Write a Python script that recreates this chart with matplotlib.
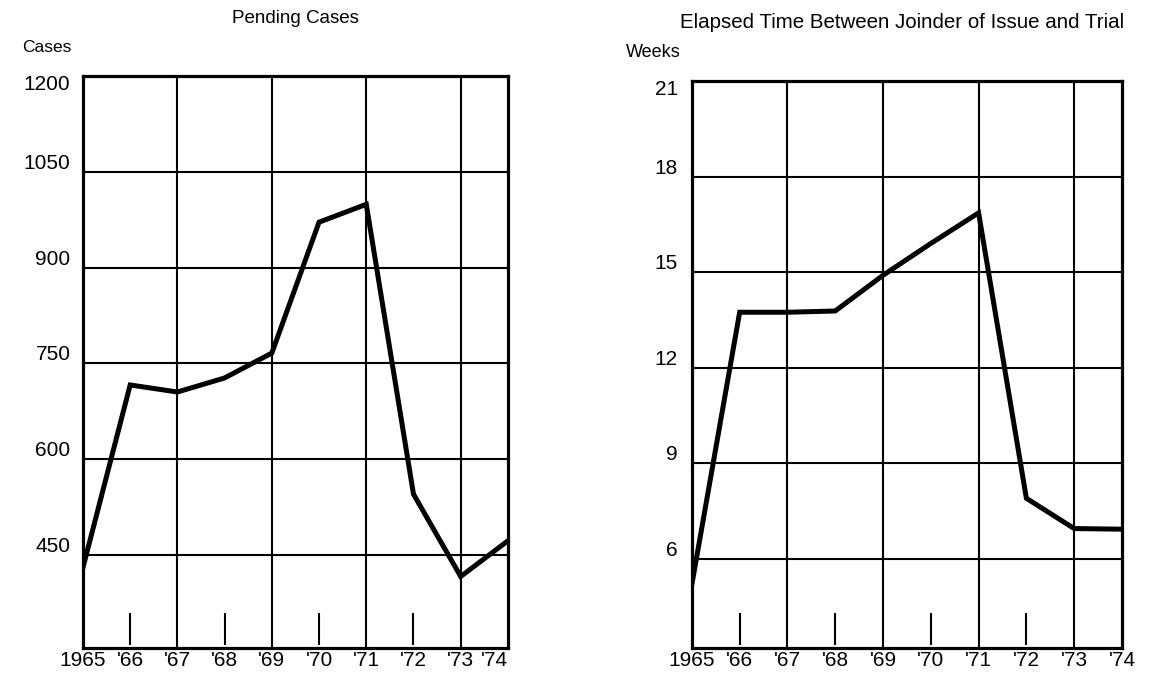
import matplotlib
matplotlib.use("Agg")
import matplotlib.pyplot as plt
import matplotlib.transforms as mtransforms

years = [1965, 1966, 1967, 1968, 1969, 1970, 1971, 1972, 1973, 1974]
year_labels = ["1965", "'66", "'67", "'68", "'69", "'70", "'71", "'72", "'73", "'74"]

pending_cases = [430, 716, 705, 727, 766, 971, 999, 545, 416, 472]
cases_ticks = [450, 600, 750, 900, 1050, 1200]

elapsed_weeks = [5.2, 13.74, 13.74, 13.78, 14.9, 15.9, 16.86, 7.9, 6.95, 6.93]
weeks_ticks = [6, 9, 12, 15, 18, 21]

plt.rcParams['font.family'] = ['Liberation Sans', 'DejaVu Sans']

fig = plt.figure(figsize=(11.57, 6.76), dpi=100)
fig.patch.set_facecolor('white')


def style_panel(ax, values, ticks, ylim, ylab_pad):
    ax.set_xlim(years[0], years[-1])
    ax.set_ylim(*ylim)

    # horizontal grid (top line is the frame)
    for v in ticks[:-1]:
        ax.axhline(v, color='black', lw=1.5, zorder=1)
    # full vertical lines on odd years, short marks on even years
    for i, yr in enumerate(years[1:-1], start=1):
        if i % 2 == 0:
            ax.axvline(yr, color='black', lw=1.5, zorder=1)
        else:
            ax.vlines(yr, 0.005, 0.062, color='black', lw=1.5,
                      transform=ax.get_xaxis_transform(), zorder=1)

    ax.plot(years, values, color='black', lw=3.6, solid_joinstyle='miter', zorder=3)

    for s in ax.spines.values():
        s.set_linewidth(2.3)
        s.set_color('black')

    ax.set_xticks(years)
    ax.set_xticklabels(year_labels)
    ax.set_yticks(ticks)
    ax.set_yticklabels([str(t) for t in ticks])
    ax.tick_params(axis='x', length=0, pad=2, labelsize=15)
    ax.tick_params(axis='y', length=0, pad=ylab_pad, labelsize=15)

    # labels sit a bit above their lines, the top one a bit below
    for k, lab in enumerate(ax.get_yticklabels()):
        dy = -4.5 if k == len(ticks) - 1 else 7.5
        off = mtransforms.ScaledTranslation(0, dy / 72, fig.dpi_scale_trans)
        lab.set_transform(lab.get_transform() + off)


ax1 = fig.add_axes([0.0717, 0.0414, 0.3673, 0.8462])
style_panel(ax1, pending_cases, cases_ticks, (304, 1200), 9)
ax1.get_xticklabels()[-1].set_horizontalalignment('right')

ax2 = fig.add_axes([0.598, 0.0414, 0.3717, 0.8388])
style_panel(ax2, elapsed_weeks, weeks_ticks, (3.2, 21), 10)

fig.text(0.2553, 0.973, "Pending Cases", ha='center', va='center', fontsize=13.5)
fig.text(0.019, 0.930, "Cases", ha='left', va='center', fontsize=12.5)
fig.text(0.9715, 0.967, "Elapsed Time Between Joinder of Issue and Trial",
         ha='right', va='center', fontsize=14.8)
fig.text(0.541, 0.923, "Weeks", ha='left', va='center', fontsize=13)

fig.savefig("out.png", dpi=100, facecolor='white')
